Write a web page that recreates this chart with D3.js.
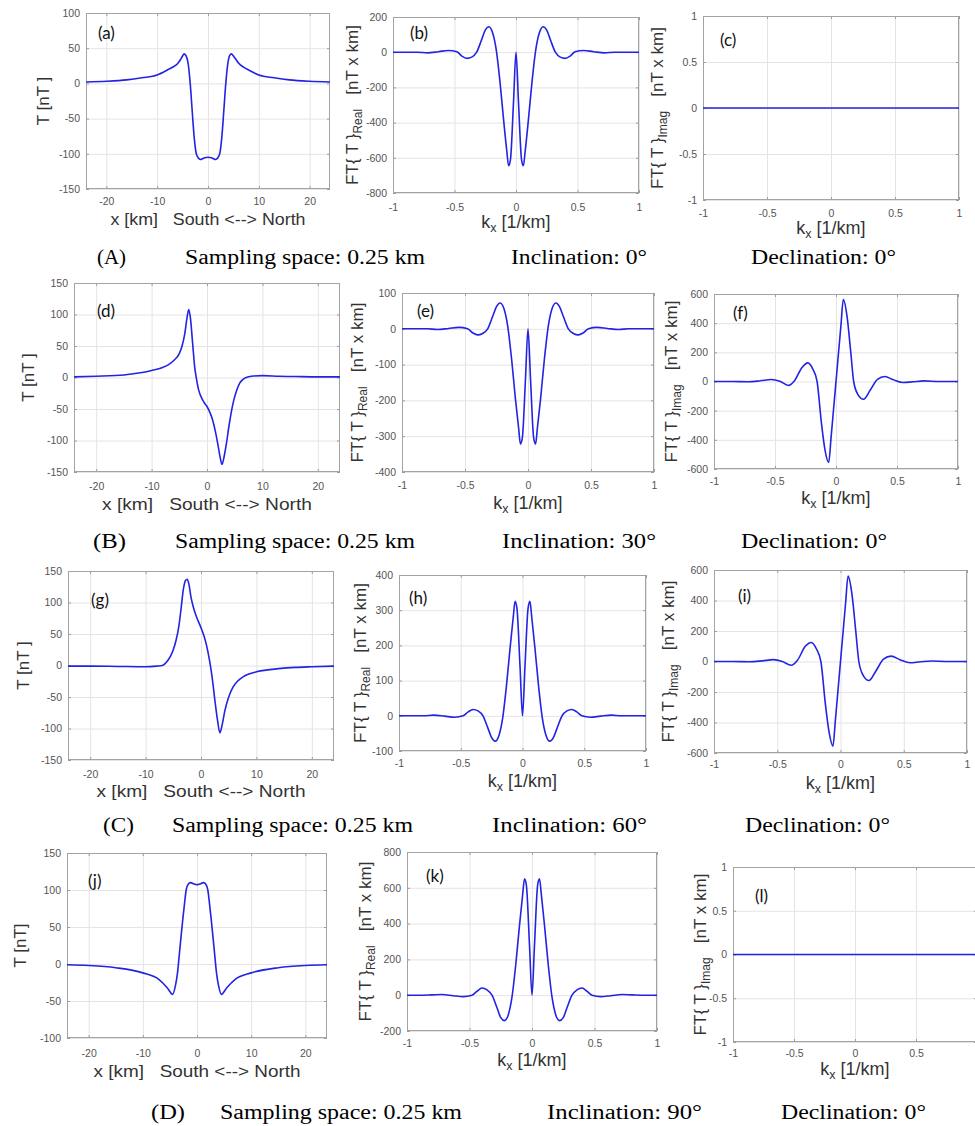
<!DOCTYPE html>
<html><head><meta charset="utf-8">
<script src="https://cdn.jsdelivr.net/npm/d3@7"></script>
<style>body{margin:0;background:#fff} svg{display:block}</style>
</head><body>
<svg id="c" width="975" height="1126"></svg>
<script>
// ---------------- DATA ----------------
// Spatial profiles T(x) [nT], x in km
const aX = [-24,-20,-16,-13,-10,-8,-7,-6,-5.4,-5.0,-4.7,-4.3,-3.9,-3.5,-3.1,-2.7,-2.3,-1.9,-1.5,-0.8,0,0.8,1.5,1.9,2.3,2.7,3.1,3.5,3.9,4.3,4.6,5.0,5.5,6,7,8,10,13,16,20,24];
const aT = [2,3,5,8,12,19,23,28,34,39,42,39,28,0,-40,-78,-100,-106,-108,-106,-105,-106,-108,-106,-100,-78,-40,0,28,40,42,39,34,29,23,19,12,8,5,3,2];

const dX = [-24,-20,-15,-10,-8,-7,-6,-5,-4.5,-4,-3.6,-3.3,-3,-2.6,-2.2,-1.9,-1.5,-1,-0.5,0,0.5,1,1.5,2,2.4,2.7,3.1,3.5,4,4.7,5.3,5.9,6.5,7.1,8,10,13,16,20,24];
const dT = [1,2,4,11,16,20,27,38,50,70,95,108,95,55,15,-2,-20,-32,-40,-46,-55,-67,-85,-108,-128,-138,-125,-105,-75,-41,-22,-9,-3,0,2,3,2,1.5,1,1];

const gX = [-24,-20,-15,-10,-8,-7,-6,-5.5,-5,-4.5,-4,-3.6,-3.2,-2.8,-2.5,-2.2,-1.8,-1.3,-0.8,0,0.5,1,1.5,2,2.5,3,3.4,3.8,4.3,5,5.8,6.7,7.6,8.5,10,12,14,17,20,24];
const gT = [-1,-1,-1.5,-2,-1,0,8,15,25,40,62,90,120,135,137,130,108,90,77,60,48,32,10,-18,-55,-88,-107,-95,-72,-50,-34,-24,-18,-14,-10,-7,-5,-3,-2,-1];

const jX = [-24,-20,-15,-10,-7,-5.5,-4.5,-4,-3.6,-3.3,-3,-2.6,-2.3,-2,-1.6,-1.2,-0.5,0,0.5,1.2,1.6,2,2.3,2.6,3,3.3,3.6,4,4.5,5.5,7,10,15,20,24];
const jT = [-1,-2,-5,-12,-21,-32,-41,-30,-12,10,33,62,82,100,108,110,108,107,108,110,108,100,82,62,33,10,-12,-30,-41,-32,-21,-12,-5,-2,-1];

// Fourier transforms, kx in 1/km
const kReal = [-1,-0.9,-0.8,-0.72,-0.63,-0.55,-0.48,-0.44,-0.4,-0.36,-0.32,-0.28,-0.25,-0.22,-0.19,-0.16,-0.13,-0.1,-0.075,-0.06,-0.045,-0.02,0,0.02,0.045,0.06,0.075,0.1,0.13,0.16,0.19,0.22,0.25,0.28,0.32,0.36,0.4,0.44,0.48,0.55,0.63,0.72,0.8,0.9,1];
const bV = [0,0,0,-4,3,10,2,-22,-35,-28,0,70,125,145,110,10,-170,-390,-560,-645,-610,-280,0,-280,-610,-645,-560,-390,-170,10,110,145,125,70,0,-28,-35,-22,2,10,3,-4,0,0,0];
const eV = [0,0,0,-2,1,4,0,-11,-17,-13,0,35,62,72,55,5,-85,-195,-275,-322,-305,-140,0,-140,-305,-322,-275,-195,-85,5,55,72,62,35,0,-13,-17,-11,0,4,1,-2,0,0,0];
const hV = [0,0,0,2,-1,-4,0,11,18,14,0,-35,-62,-72,-55,-5,85,195,280,325,305,140,0,140,305,325,280,195,85,-5,-55,-72,-62,-35,0,14,18,11,0,-4,-1,2,0,0,0];
const kV = [0,0,2,4,-3,-8,0,22,40,30,0,-70,-125,-142,-110,-10,170,390,560,650,615,280,0,280,615,650,560,390,170,-10,-110,-142,-125,-70,0,30,40,22,0,-8,-3,4,2,0,0];

const kImag = [-1,-0.85,-0.72,-0.62,-0.53,-0.46,-0.39,-0.34,-0.28,-0.23,-0.19,-0.155,-0.12,-0.09,-0.06,-0.04,-0.02,0,0.02,0.04,0.06,0.09,0.12,0.145,0.18,0.225,0.28,0.34,0.4,0.47,0.55,0.63,0.72,0.85,1];
const fV = [0,0,-2,5,14,2,-27,5,95,128,85,0,-280,-470,-555,-380,-190,0,190,380,562,450,210,0,-90,-122,-60,15,34,12,-7,-2,4,0,0];
const iV = [0,0,-2,4,12,0,-25,8,98,125,82,0,-275,-465,-555,-380,-190,0,190,380,560,445,205,0,-92,-125,-62,15,35,12,-8,-2,3,0,0];

const kFlat = [-1, 1];
const cV = [0, 0];
const lV = [0, 0];

// Axis ranges and tick values
const xDomainT = [-24, 24];
const xDomainK = [-1, 1];
const xTicksT = [-20,-10,0,10,20];
const xTicksK = [-1,-0.5,0,0.5,1];
const aTicks = [-150,-100,-50,0,50,100];
const bTicks = [-800,-600,-400,-200,0,200];
const cTicks = [-1,-0.5,0,0.5,1];
const dTicks = [-150,-100,-50,0,50,100,150];
const eTicks = [-400,-300,-200,-100,0,100];
const fTicks = [-600,-400,-200,0,200,400,600];
const gTicks = [-150,-100,-50,0,50,100,150];
const hTicks = [-100,0,100,200,300,400];
const iTicks = [-600,-400,-200,0,200,400,600];
const jTicks = [-100,-50,0,50,100,150];
const kTicks = [-200,0,200,400,600,800];
const lTicks = [-1,-0.5,0,0.5,1];

// Captions
const rowNames = ["(A)","(B)","(C)","(D)"];
const sampling = ["Sampling space: 0.25 km","Sampling space: 0.25 km","Sampling space: 0.25 km","Sampling space: 0.25 km"];
const inclinations = ["Inclination: 0°","Inclination: 30°","Inclination: 60°","Inclination: 90°"];
const declinations = ["Declination: 0°","Declination: 0°","Declination: 0°","Declination: 0°"];

// ---------------- LAYOUT ----------------
const SANS = "'Liberation Sans', Arial, Helvetica, sans-serif";
const SERIF = "'Liberation Serif', 'Times New Roman', serif";
const LAB = "Lato, 'Open Sans', sans-serif";
const LINE = "#2323e3";

const panels = [
  {id:"a", kind:"T", xs:aX, ys:aT, xd:xDomainT, xt:xTicksT, yt:aTicks, L:86,  R:330, T:13,  B:189, tickY:205, titleY:225, titleW:195, ylx:43, ylab:"T [nT ]", tag:"(a)", tx:98,  ty:39},
  {id:"b", kind:"R", xs:kReal, ys:bV, xd:xDomainK, xt:xTicksK, yt:bTicks, L:393, R:639, T:17,  B:193, tickY:211, titleY:228, ylx:352, tag:"(b)", tx:410, ty:39},
  {id:"c", kind:"I", xs:kFlat, ys:cV, xd:xDomainK, xt:xTicksK, yt:cTicks, L:703, R:959, T:16,  B:200, tickY:217, titleY:234, ylx:657, tag:"(c)", tx:720, ty:46},
  {id:"d", kind:"T", xs:dX, ys:dT, xd:xDomainT, xt:xTicksT, yt:dTicks, L:74,  R:340, T:283, B:472, tickY:490, titleY:510, titleW:210, ylx:28, ylab:"T [nT ]", tag:"(d)", tx:97,  ty:317},
  {id:"e", kind:"R", xs:kReal, ys:eV, xd:xDomainK, xt:xTicksK, yt:eTicks, L:402, R:654, T:293, B:472, tickY:489, titleY:509, ylx:357, tag:"(e)", tx:417, ty:317},
  {id:"f", kind:"I", xs:kImag, ys:fV, xd:xDomainK, xt:xTicksK, yt:fTicks, L:714, R:958, T:294, B:469, tickY:485, titleY:504, ylx:671, tag:"(f)", tx:733, ty:319},
  {id:"g", kind:"T", xs:gX, ys:gT, xd:xDomainT, xt:xTicksT, yt:gTicks, L:68,  R:334, T:571, B:760, tickY:778, titleY:797, titleW:209, ylx:23, ylab:"T [nT ]", tag:"(g)", tx:91,  ty:606},
  {id:"h", kind:"R", xs:kReal, ys:hV, xd:xDomainK, xt:xTicksK, yt:hTicks, L:399, R:646, T:575, B:751, tickY:767, titleY:787, ylx:360, tag:"(h)", tx:409, ty:604},
  {id:"i", kind:"I", xs:kImag, ys:iV, xd:xDomainK, xt:xTicksK, yt:iTicks, L:714, R:967, T:570, B:753, tickY:768, titleY:789, ylx:668, tag:"(i)", tx:738, ty:602},
  {id:"j", kind:"T", xs:jX, ys:jT, xd:xDomainT, xt:xTicksT, yt:jTicks, L:67,  R:327, T:853, B:1038, tickY:1057, titleY:1077, titleW:207, ylx:20, ylab:"T [nT]", tag:"(j)", tx:88, ty:887},
  {id:"k", kind:"R", xs:kReal, ys:kV, xd:xDomainK, xt:xTicksK, yt:kTicks, L:407, R:657, T:852, B:1031, tickY:1047, titleY:1066, ylx:365, tag:"(k)", tx:426, ty:882},
  {id:"l", kind:"I", xs:kFlat, ys:lV, xd:xDomainK, xt:xTicksK, yt:lTicks, L:733, R:977, T:867, B:1042, tickY:1057, titleY:1075, ylx:700, tag:"(l)", tx:755, ty:902}
];

const captionRows = [
  {y:264,  xs:[97,185,511,751],  ws:[29,240,136,145]},
  {y:548,  xs:[93,175,502,741],  ws:[33,240,154,146]},
  {y:832,  xs:[103,172,492,745], ws:[31,241,155,145]},
  {y:1119, xs:[151,220,547,781], ws:[34,242,155,145]}
];

// ---------------- DRAW ----------------
const svg = d3.select("#c");
const defs = svg.append("defs");
const TICKFS = 10.5;
const PAGE_W = 975;

panels.forEach(p => {
  const W = p.R - p.L, H = p.B - p.T;
  const x = d3.scaleLinear().domain(p.xd).range([p.L, p.R]);
  const y = d3.scaleLinear().domain([p.yt[0], p.yt[p.yt.length-1]]).range([p.B, p.T]);
  const g = svg.append("g");

  defs.append("clipPath").attr("id","clip-"+p.id)
    .append("rect").attr("x",p.L).attr("y",p.T-1).attr("width",W).attr("height",H+2);

  const strip = s => { s.select(".domain").remove(); };

  // grid
  g.append("g").attr("transform",`translate(0,${p.B})`)
    .call(d3.axisBottom(x).tickValues(p.xt).tickSize(-H).tickFormat(""))
    .call(strip).selectAll("line").attr("stroke","#e4e4e4");
  g.append("g").attr("transform",`translate(${p.L},0)`)
    .call(d3.axisLeft(y).tickValues(p.yt).tickSize(-W).tickFormat(""))
    .call(strip).selectAll("line").attr("stroke","#e4e4e4");

  // inward ticks on all four sides
  const tk = "#9d9d9d";
  g.append("g").attr("transform",`translate(0,${p.B})`).call(d3.axisBottom(x).tickValues(p.xt).tickSize(-3).tickFormat("")).call(strip).selectAll("line").attr("stroke",tk);
  g.append("g").attr("transform",`translate(0,${p.T})`).call(d3.axisTop(x).tickValues(p.xt).tickSize(-3).tickFormat("")).call(strip).selectAll("line").attr("stroke",tk);
  g.append("g").attr("transform",`translate(${p.L},0)`).call(d3.axisLeft(y).tickValues(p.yt).tickSize(-3).tickFormat("")).call(strip).selectAll("line").attr("stroke",tk);
  g.append("g").attr("transform",`translate(${p.R},0)`).call(d3.axisRight(y).tickValues(p.yt).tickSize(-3).tickFormat("")).call(strip).selectAll("line").attr("stroke",tk);

  // frame
  g.append("rect").attr("x",p.L+0.5).attr("y",p.T+0.5).attr("width",W-1).attr("height",H-1)
    .attr("fill","none").attr("stroke","#a3a3a3").attr("stroke-width",1);

  // curve
  const pts = p.xs.map((v,i) => [v, p.ys[i]]);
  g.append("path").datum(pts)
    .attr("clip-path",`url(#clip-${p.id})`)
    .attr("fill","none").attr("stroke",LINE).attr("stroke-width",1.6).attr("stroke-linejoin","round")
    .attr("d", d3.line().x(d=>x(d[0])).y(d=>y(d[1])).curve(d3.curveMonotoneX));

  // tick labels (labels that fall outside the page are not drawn, as in the source)
  const pad = p.tickY - p.B - 0.71*TICKFS;
  const fmt = d => String(d);
  const visibleX = p.xt.filter(v => x(v) < PAGE_W - 3);
  const xl = g.append("g").attr("transform",`translate(0,${p.B})`)
    .call(d3.axisBottom(x).tickValues(visibleX).tickSize(0).tickPadding(pad).tickFormat(fmt));
  xl.call(strip);
  xl.selectAll("text").attr("font-family",SANS).attr("font-size",TICKFS).attr("fill","#555");
  const yl = g.append("g").attr("transform",`translate(${p.L},0)`)
    .call(d3.axisLeft(y).tickValues(p.yt).tickSize(0).tickPadding(6).tickFormat(fmt));
  yl.call(strip);
  yl.selectAll("text").attr("font-family",SANS).attr("font-size",TICKFS).attr("fill","#555");

  const cy = (p.T + p.B) / 2, cx = (p.L + p.R) / 2;

  if (p.kind === "T") {
    g.append("text").attr("x", cx - p.titleW/2).attr("y", p.titleY)
      .attr("textLength", p.titleW).attr("lengthAdjust","spacingAndGlyphs")
      .style("white-space","pre")
      .attr("font-family",SANS).attr("font-size",17).attr("fill","#333")
      .text("x [km]   South <--> North");
    g.append("text").attr("transform",`translate(${p.ylx},${cy}) rotate(-90)`)
      .attr("text-anchor","middle").attr("dy","0.35em")
      .attr("font-family",SANS).attr("font-size",17).attr("fill","#333")
      .style("white-space","pre").text(p.ylab);
  } else {
    const t = g.append("text").attr("x", cx).attr("y", p.titleY).attr("text-anchor","middle")
      .attr("font-family",SANS).attr("font-size",18).attr("fill","#333");
    t.append("tspan").text("k");
    t.append("tspan").attr("font-size",12.5).attr("dy",4).text("x");
    t.append("tspan").attr("dy",-4).style("white-space","pre").text(" [1/km]");

    const yt = g.append("text").attr("transform",`translate(${p.ylx},${cy}) rotate(-90)`)
      .attr("text-anchor","middle").attr("dy","0.35em")
      .attr("font-family",SANS).attr("font-size",17).attr("fill","#333").style("white-space","pre");
    yt.append("tspan").text("FT{ T }");
    yt.append("tspan").attr("font-size",12).attr("dy",4).text(p.kind === "R" ? "Real" : "Imag");
    yt.append("tspan").attr("dy",-4).text("   [nT x km]");
  }

  // panel tag
  g.append("text").attr("x",p.tx).attr("y",p.ty)
    .attr("font-family",LAB).attr("font-size",17).attr("fill","#111").text(p.tag);
});

// captions
captionRows.forEach((r, i) => {
  const texts = [rowNames[i], sampling[i], inclinations[i], declinations[i]];
  texts.forEach((t, j) => {
    svg.append("text").attr("x", r.xs[j]).attr("y", r.y)
      .attr("textLength", r.ws[j]).attr("lengthAdjust","spacingAndGlyphs")
      .attr("font-family",SERIF).attr("font-size",20).attr("fill","#000")
      .text(t);
  });
});
</script>
</body></html>
